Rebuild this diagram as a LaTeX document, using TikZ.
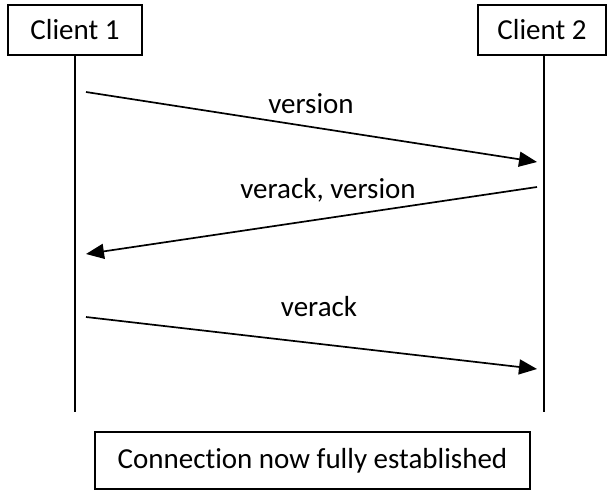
\documentclass[tikz,border=0pt]{standalone}
\usepackage{fontspec}
\setmainfont{Carlito}[RawFeature=-liga]
\usetikzlibrary{arrows.meta}
\begin{document}
\begin{tikzpicture}[x=1pt,y=-1pt,
  every node/.style={font=\fontsize{29}{34}\selectfont},
  party/.style={draw,line width=1.7pt,minimum height=50pt,inner sep=0pt},
  life/.style={line width=1.7pt},
  msg/.style={line width=1.7pt,-{Triangle[length=18pt,width=15pt]}},
  lbl/.style={anchor=base,inner sep=0pt}]
\useasboundingbox (0,0) rectangle (607,491);
\node[party,minimum width=134pt] (c1) at (75,30) {Client 1};
\node[party,minimum width=128pt] (c2) at (542,30) {Client 2};
\coordinate (l1t) at (75,55);
\coordinate (l1b) at (75,412);
\coordinate (l2t) at (544,55);
\coordinate (l2b) at (544,412);
\draw[life] (l1t) -- (l1b);
\draw[life] (l2t) -- (l2b);
\coordinate (a1s) at (86,92);
\coordinate (a1e) at (537,162);
\coordinate (a2s) at (537,187);
\coordinate (a2e) at (86,254);
\coordinate (a3s) at (86,317);
\coordinate (a3e) at (537,369);
\draw[msg] (a1s) -- (a1e);
\draw[msg] (a2s) -- (a2e);
\draw[msg] (a3s) -- (a3e);
\node[lbl] (t1) at (311,113) {version};
\node[lbl] (t2) at (328,198) {verack, version};
\node[lbl] (t3) at (319,316) {verack};
\node[draw,line width=1.7pt,minimum width=435pt,minimum height=57pt,inner sep=0pt] (done) at (312.5,460.5) {Connection now fully established};
\end{tikzpicture}
\end{document}
